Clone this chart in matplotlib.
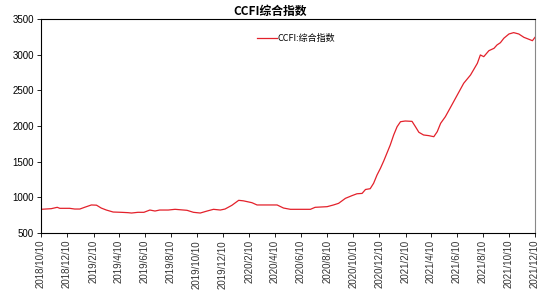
import matplotlib
matplotlib.use("Agg")
import matplotlib.pyplot as plt
import pandas as pd

dates = [
    "2018-10-10", "2018-11-03", "2018-11-17", "2018-11-23", "2018-12-16", "2018-12-28",
    "2019-01-09", "2019-01-20", "2019-02-05", "2019-02-17", "2019-02-28", "2019-03-12",
    "2019-03-28", "2019-04-16", "2019-05-02", "2019-05-10", "2019-05-25", "2019-06-08",
    "2019-06-22", "2019-07-04", "2019-07-15", "2019-08-04", "2019-08-20", "2019-09-17",
    "2019-10-02", "2019-10-18", "2019-11-03", "2019-11-18", "2019-12-04", "2019-12-15",
    "2019-12-31", "2020-01-16", "2020-01-27", "2020-02-16", "2020-02-28", "2020-03-14",
    "2020-04-15", "2020-04-30", "2020-05-16", "2020-06-01", "2020-07-02", "2020-07-13",
    "2020-08-10", "2020-08-25", "2020-09-06", "2020-09-22", "2020-10-07", "2020-10-19",
    "2020-10-31", "2020-11-08", "2020-11-19", "2020-11-27", "2020-12-05", "2020-12-13",
    "2020-12-21", "2020-12-29", "2021-01-05", "2021-01-13", "2021-01-21", "2021-01-29",
    "2021-02-09", "2021-02-25", "2021-03-05", "2021-03-13", "2021-03-24", "2021-04-05",
    "2021-04-17", "2021-04-25", "2021-05-03", "2021-05-14", "2021-05-26", "2021-06-11",
    "2021-06-26", "2021-07-12", "2021-07-28", "2021-08-04", "2021-08-12", "2021-08-24",
    "2021-09-05", "2021-09-12", "2021-09-20", "2021-09-28", "2021-10-10", "2021-10-21",
    "2021-11-02", "2021-11-14", "2021-11-26", "2021-12-04", "2021-12-10",
]
ccfi = [
    832, 841, 860, 846, 846, 836,
    836, 860, 893, 890, 850, 822,
    794, 790, 785, 780, 790, 790,
    822, 808, 822, 822, 832, 818,
    790, 780, 808, 832, 822, 836,
    888, 958, 951, 925, 893, 893,
    893, 850, 832, 832, 832, 860,
    869, 893, 916, 986, 1023, 1050,
    1055, 1110, 1121, 1197, 1313, 1407,
    1514, 1631, 1734, 1874, 1990, 2060,
    2070, 2065, 1990, 1912, 1874, 1865,
    1850, 1920, 2038, 2130, 2260, 2435,
    2599, 2715, 2879, 2996, 2972, 3056,
    3089, 3136, 3168, 3230, 3290, 3309,
    3290, 3243, 3215, 3196, 3243,
]
tick_dates = ["2018-10-10", "2018-12-10", "2019-02-10", "2019-04-10", "2019-06-10",
              "2019-08-10", "2019-10-10", "2019-12-10", "2020-02-10", "2020-04-10",
              "2020-06-10", "2020-08-10", "2020-10-10", "2020-12-10", "2021-02-10",
              "2021-04-10", "2021-06-10", "2021-08-10", "2021-10-10", "2021-12-10"]
tick_labels = ["2018/10/10", "2018/12/10", "2019/2/10", "2019/4/10", "2019/6/10",
               "2019/8/10", "2019/10/10", "2019/12/10", "2020/2/10", "2020/4/10",
               "2020/6/10", "2020/8/10", "2020/10/10", "2020/12/10", "2021/2/10",
               "2021/4/10", "2021/6/10", "2021/8/10", "2021/10/10", "2021/12/10"]
y_ticks = [500, 1000, 1500, 2000, 2500, 3000, 3500]

cjk = ["Noto Sans CJK SC", "DejaVu Sans"]

fig = plt.figure(figsize=(5.5, 3.03), dpi=100)
ax = fig.add_axes([41/550, 1 - 233/303, (535-41)/550, (233-19)/303])

x = pd.to_datetime(dates)
ax.plot(x, ccfi, color="#e3212b", lw=0.9, label="CCFI:综合指数")

ax.set_xlim(pd.Timestamp(tick_dates[0]), pd.Timestamp(tick_dates[-1]))
ax.set_ylim(500, 3500)
ax.set_yticks(y_ticks)
ax.set_yticklabels([str(v) for v in y_ticks], fontsize=7, family="Liberation Sans")
ax.set_xticks(pd.to_datetime(tick_dates))
ax.set_xticklabels(tick_labels, rotation=90, fontsize=7, family="Liberation Sans", color="#333333")
ax.tick_params(axis="both", direction="out", length=3, width=0.6, pad=2)

for s in ["left", "bottom", "top"]:
    ax.spines[s].set_color("black")
    ax.spines[s].set_linewidth(0.8)
ax.spines["right"].set_color("#888888")
ax.spines["right"].set_linewidth(0.8)

leg = ax.legend(loc="upper left", bbox_to_anchor=((255-41)/494, (233-32)/214),
                frameon=False, prop={"family": cjk, "size": 6.5},
                handlelength=2.2, handletextpad=0.1, borderpad=0.2, borderaxespad=0)

fig.text(270/550, 1 - 11/303, "CCFI综合指数", ha="center", va="center",
         fontsize=8.5, fontweight="bold", family=cjk)

fig.savefig("out.png", dpi=100, facecolor="white")
